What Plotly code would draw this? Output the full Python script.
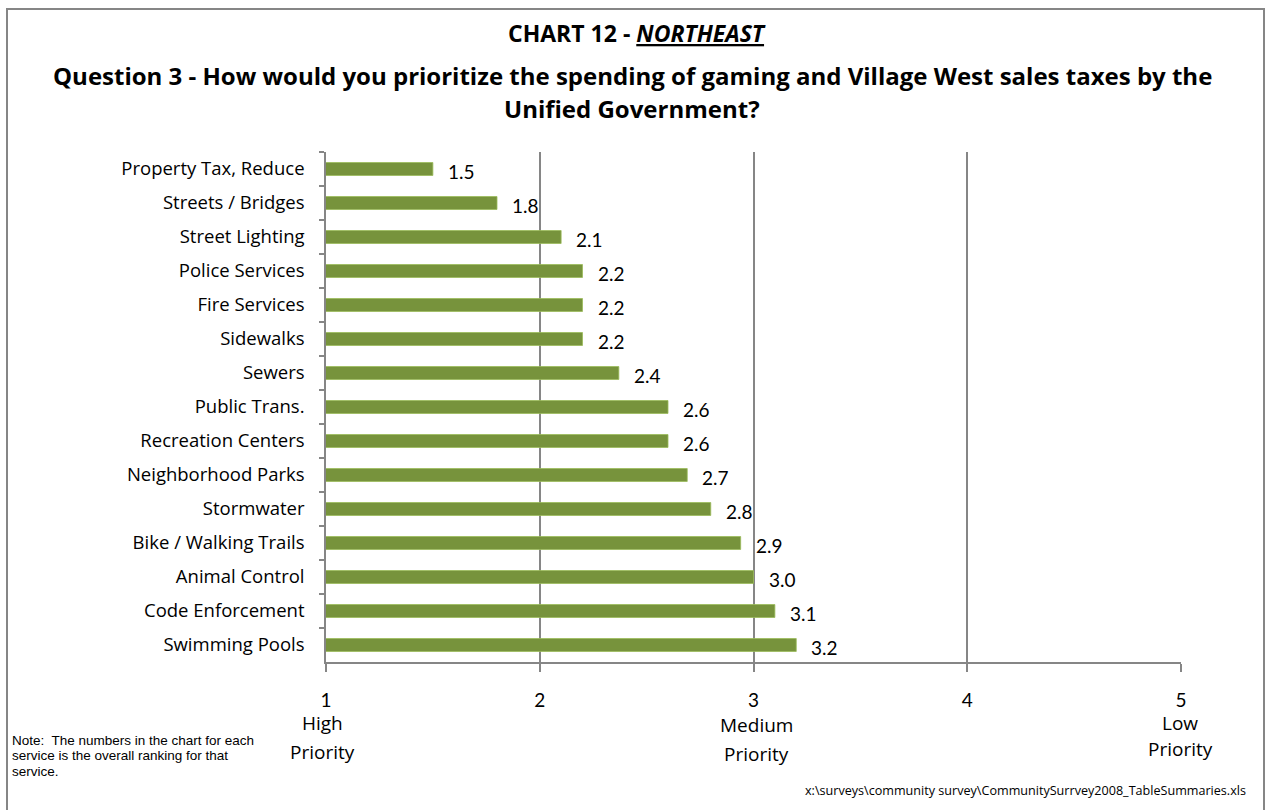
import plotly.graph_objects as go

categories = [
    "Property Tax, Reduce", "Streets / Bridges", "Street Lighting", "Police Services",
    "Fire Services", "Sidewalks", "Sewers", "Public Trans.", "Recreation Centers",
    "Neighborhood Parks", "Stormwater", "Bike / Walking Trails", "Animal Control",
    "Code Enforcement", "Swimming Pools",
]
values = [1.5, 1.8, 2.1, 2.2, 2.2, 2.2, 2.37, 2.6, 2.6, 2.69, 2.8, 2.94, 3.0, 3.1, 3.2]
x_ticks = [1, 2, 3, 4, 5]
priority_labels = {1: ("High", "Priority"), 3: ("Medium", "Priority"), 5: ("Low", "Priority")}

FONT = "Lato, 'Open Sans', sans-serif"
FONT2 = "'Open Sans', Lato, sans-serif"
GRAY = "#868686"

W, H = 1266, 810
L, R, T, B = 326, 1181, 152, 662
PW, PH = R - L, B - T


def px(xp):
    return (xp - L) / PW


def py(yp):
    return (B - yp) / PH


fig = go.Figure()
fig.add_trace(go.Bar(
    x=values, y=categories, orientation="h", width=0.38,
    marker=dict(color="#77933C", line=dict(color="#9BBB59", width=0.8)),
    hoverinfo="x+y",
))

annotations = []
for c, v in zip(categories, values):
    annotations.append(dict(
        x=v, y=c, xref="x", yref="y", text=f"{v:.1f}", showarrow=False,
        xanchor="left", yanchor="middle", xshift=13, yshift=-2,
        font=dict(family=FONT, size=19, color="#000"),
    ))

# Priority labels under the axis (pixel centres)
pri_pos = {1: (322, 723, 752), 3: (756, 725, 754), 5: (1180, 723, 749)}
for k, (top, bottom) in priority_labels.items():
    xc, y1, y2 = pri_pos[k]
    for txt, yy in ((top, y1), (bottom, y2)):
        annotations.append(dict(x=px(xc), y=py(yy), xref="paper", yref="paper", text=txt,
                                showarrow=False, xanchor="center", yanchor="middle",
                                font=dict(family=FONT2, size=19, color="#000")))

# Titles
annotations.append(dict(x=px(637), y=py(33), xref="paper", yref="paper",
                        text="<b>CHART 12 - <i><u>NORTHEAST</u></i></b>", showarrow=False,
                        xanchor="center", yanchor="middle",
                        font=dict(family=FONT2, size=23, color="#000")))
annotations.append(dict(x=px(632), y=py(75), xref="paper", yref="paper",
                        text="<b>Question 3 - How would you prioritize the spending of gaming and Village West sales taxes by the</b>",
                        showarrow=False, xanchor="center", yanchor="middle",
                        font=dict(family=FONT2, size=24, color="#000")))
annotations.append(dict(x=px(632), y=py(108), xref="paper", yref="paper",
                        text="<b>Unified Government?</b>",
                        showarrow=False, xanchor="center", yanchor="middle",
                        font=dict(family=FONT2, size=24, color="#000")))

# Note
for i, line in enumerate(["Note:  The numbers in the chart for each",
                          "service is the overall ranking for that",
                          "service."]):
    annotations.append(dict(x=px(10), y=py(740 + i * 15.5), xref="paper", yref="paper",
                            text=line, showarrow=False, xanchor="left", yanchor="middle",
                            font=dict(family="Liberation Sans, Arial, sans-serif", size=13.5, color="#000")))

# Footer
annotations.append(dict(x=px(1248), y=py(790), xref="paper", yref="paper",
                        text="x:\\surveys\\community survey\\CommunitySurrvey2008_TableSummaries.xls",
                        showarrow=False, xanchor="right", yanchor="middle",
                        font=dict(family=FONT2, size=12.6, color="#000")))

fig.update_layout(
    width=W, height=H,
    margin=dict(l=L, r=W - R, t=T, b=H - B, pad=0),
    paper_bgcolor="white", plot_bgcolor="white",
    showlegend=False,
    font=dict(family=FONT, color="#000"),
    annotations=annotations,
    shapes=[dict(type="rect", xref="paper", yref="paper",
                 x0=px(7), x1=px(1264), y0=py(812), y1=py(9),
                 line=dict(color=GRAY, width=2), fillcolor="rgba(0,0,0,0)", layer="below")],
    xaxis=dict(
        range=[1, 5], tickvals=x_ticks, ticktext=[str(t) for t in x_ticks],
        showgrid=True, gridcolor=GRAY, gridwidth=1.5,
        showline=True, linecolor=GRAY, linewidth=1.5,
        ticks="outside", ticklen=8, tickcolor=GRAY, tickwidth=1.5,
        ticklabelstandoff=12,
        tickfont=dict(family=FONT, size=19, color="#000"),
        zeroline=False, fixedrange=True,
    ),
    yaxis=dict(
        type="category", autorange="reversed",
        showline=True, linecolor=GRAY, linewidth=1.5,
        ticks="outside", ticklen=5, tickcolor=GRAY, tickwidth=1.5,
        tickson="boundaries", showgrid=False,
        ticklabelstandoff=16,
        tickfont=dict(family=FONT2, size=18.5, color="#000"),
        fixedrange=True,
    ),
)

fig.write_html(
    "out.html",
    config={"displayModeBar": False},
    post_script="document.body.style.margin='0';document.body.style.overflow='hidden';",
)
